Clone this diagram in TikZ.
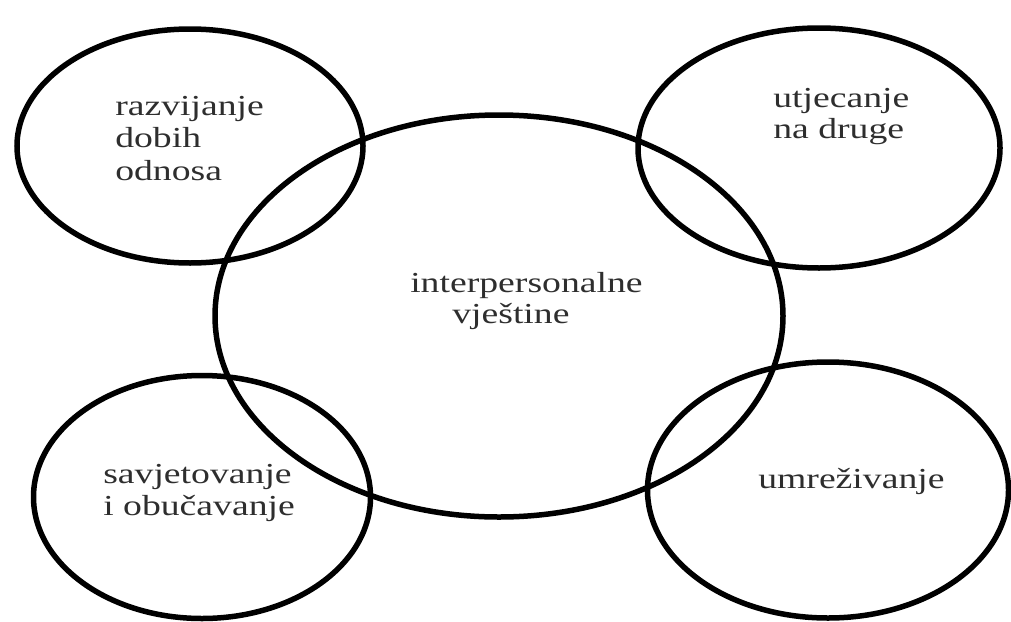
\documentclass[tikz,border=0pt]{standalone}
\usepackage{fontspec}
\setmainfont{Liberation Serif}
\usetikzlibrary{shapes.geometric}
\begin{document}
\begin{tikzpicture}[x=1pt,y=-1pt,
  ring/.style={draw=black, line width=5.5pt, ellipse, inner sep=0pt},
  lbl/.style={anchor=base west, inner sep=0pt, xscale=1.3, text=black!82,
    font=\fontsize{29}{32}\selectfont}]
\useasboundingbox (0,0) rectangle (1011,621);
% circles
\node[ring, minimum width=346pt, minimum height=234pt] (tl) at (190,146) {};
\node[ring, minimum width=362pt, minimum height=240pt] (tr) at (819,148) {};
\node[ring, minimum width=568pt, minimum height=402pt] (c) at (499,316) {};
\node[ring, minimum width=337pt, minimum height=243pt] (bl) at (202,497) {};
\node[ring, minimum width=361pt, minimum height=256pt] (br) at (828,490) {};
% labels
\node[lbl] (tl1) at (115,115) {razvijanje};
\node[lbl] (tl2) at (115,147) {dobih};
\node[lbl] (tl3) at (115,180) {odnosa};
\node[lbl] (tr1) at (773,107) {utjecanje};
\node[lbl] (tr2) at (773,138) {na druge};
\node[lbl] (c1) at (410,292) {interpersonalne};
\node[lbl] (c2) at (452,323) {vještine};
\node[lbl] (bl1) at (103,483) {savjetovanje};
\node[lbl] (bl2) at (103,515) {i obučavanje};
\node[lbl] (br1) at (758,488) {umreživanje};
\end{tikzpicture}
\end{document}
